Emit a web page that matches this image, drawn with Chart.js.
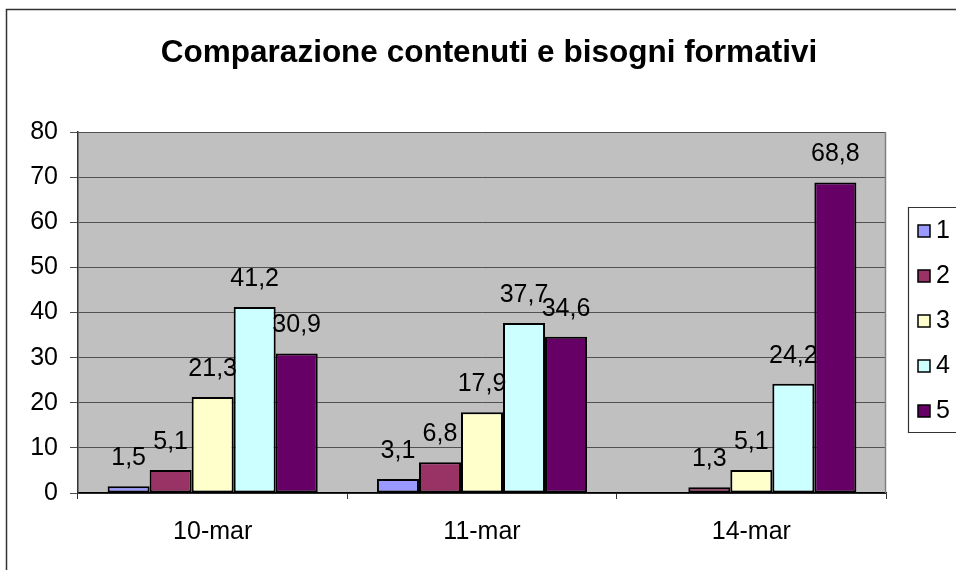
<!DOCTYPE html>
<html>
<head>
<meta charset="utf-8">
<script src="https://cdn.jsdelivr.net/npm/chart.js@4/dist/chart.umd.min.js"></script>
<style>
  html, body { margin: 0; padding: 0; background: #fff; overflow: hidden; }
  #wrap { position: relative; width: 956px; height: 570px; }
</style>
</head>
<body>
<div id="wrap"><canvas id="c" width="956" height="570"></canvas></div>
<script>
const titleText = 'Comparazione contenuti e bisogni formativi';
const categories = ['10-mar', '11-mar', '14-mar'];
const seriesNames = ['1', '2', '3', '4', '5'];
const series1 = [1.5, 3.1, null];
const series2 = [5.1, 6.8, 1.3];
const series3 = [21.3, 17.9, 5.1];
const series4 = [41.2, 37.7, 24.2];
const series5 = [30.9, 34.6, 68.8];
const yMin = 0, yMax = 80, yStep = 10;

const seriesValues = [series1, series2, series3, series4, series5];
const seriesColors = ['#9999FF', '#993366', '#FFFFCC', '#CCFFFF', '#660066'];
const FONT = 'Arial, "Liberation Sans", Helvetica, sans-serif';

const framePlugin = {
  id: 'frame',
  beforeDraw(chart) {
    const ctx = chart.ctx, a = chart.chartArea;
    ctx.save();
    ctx.fillStyle = '#ffffff';
    ctx.fillRect(0, 0, chart.width, chart.height);
    ctx.strokeStyle = '#333333';
    ctx.lineWidth = 1.5;
    ctx.beginPath();
    ctx.moveTo(6.5, chart.height + 5);
    ctx.lineTo(6.5, 9.5);
    ctx.lineTo(chart.width + 5, 9.5);
    ctx.stroke();
    ctx.fillStyle = '#C0C0C0';
    ctx.fillRect(a.left, a.top, a.right - a.left, a.bottom - a.top);
    ctx.fillStyle = '#000';
    ctx.font = 'bold 31.5px ' + FONT;
    ctx.textAlign = 'center';
    ctx.textBaseline = 'middle';
    ctx.fillText(titleText, 489, 53);
    ctx.restore();
  },
  afterDraw(chart) {
    const ctx = chart.ctx, a = chart.chartArea;
    ctx.save();
    ctx.strokeStyle = '#808080';
    ctx.lineWidth = 1.5;
    ctx.beginPath();
    ctx.moveTo(a.right - 0.5, a.top);
    ctx.lineTo(a.right - 0.5, a.bottom);
    ctx.stroke();
    const lx = 908.5, ly = 207.5, lh = 225;
    ctx.strokeStyle = '#333333';
    ctx.lineWidth = 1.2;
    ctx.beginPath();
    ctx.moveTo(chart.width + 5, ly);
    ctx.lineTo(lx, ly);
    ctx.lineTo(lx, ly + lh);
    ctx.lineTo(chart.width + 5, ly + lh);
    ctx.stroke();
    ctx.font = '25px ' + FONT;
    ctx.textAlign = 'left';
    ctx.textBaseline = 'middle';
    chart.data.datasets.forEach((ds, i) => {
      const cy = 230 + i * 45;
      ctx.fillStyle = ds.backgroundColor;
      ctx.fillRect(918, cy - 5, 12, 12);
      ctx.strokeStyle = '#000';
      ctx.lineWidth = 1.5;
      ctx.strokeRect(918, cy - 5, 12, 12);
      ctx.fillStyle = '#000';
      ctx.fillText(ds.label, 936, cy + 1);
    });
    ctx.restore();
  },
  afterDatasetsDraw(chart) {
    const ctx = chart.ctx;
    ctx.save();
    ctx.font = '25px ' + FONT;
    ctx.fillStyle = '#000';
    ctx.textAlign = 'center';
    ctx.textBaseline = 'middle';
    chart.data.datasets.forEach((ds, i) => {
      const meta = chart.getDatasetMeta(i);
      meta.data.forEach((bar, j) => {
        const v = ds.data[j];
        if (v === null || v === undefined) return;
        ctx.fillText(String(v).replace('.', ','), bar.x, bar.y - 28);
      });
    });
    ctx.restore();
  }
};

new Chart(document.getElementById('c'), {
  type: 'bar',
  data: {
    labels: categories,
    datasets: seriesNames.map((name, i) => ({
      label: name,
      data: seriesValues[i],
      backgroundColor: seriesColors[i],
      borderColor: '#000000',
      borderWidth: 2,
      borderSkipped: false,
      categoryPercentage: 0.78,
      barPercentage: 1.0
    }))
  },
  options: {
    responsive: false,
    animation: false,
    devicePixelRatio: 1,
    layout: { padding: { left: 0, right: 70, top: 132, bottom: 0 } },
    plugins: {
      legend: { display: false },
      title: { display: false },
      tooltip: { enabled: false }
    },
    scales: {
      x: {
        offset: true,
        grid: {
          offset: true,
          drawOnChartArea: false,
          drawTicks: true,
          tickLength: 6,
          color: '#333333',
          lineWidth: 1
        },
        border: { display: true, color: '#000000', width: 1.5 },
        ticks: { color: '#000', font: { family: FONT, size: 25 }, padding: 18 },
        afterFit(axis) { axis.height = 77; }
      },
      y: {
        min: yMin,
        max: yMax,
        ticks: {
          stepSize: yStep,
          color: '#000',
          font: { family: FONT, size: 25 },
          padding: 12,
          autoSkip: false
        },
        grid: {
          color: '#505050',
          lineWidth: 1,
          drawTicks: true,
          tickLength: 8
        },
        border: { display: true, color: '#333333', width: 1.5 },
        afterFit(axis) { axis.width = 78; }
      }
    }
  },
  plugins: [framePlugin]
});
</script>
</body>
</html>
